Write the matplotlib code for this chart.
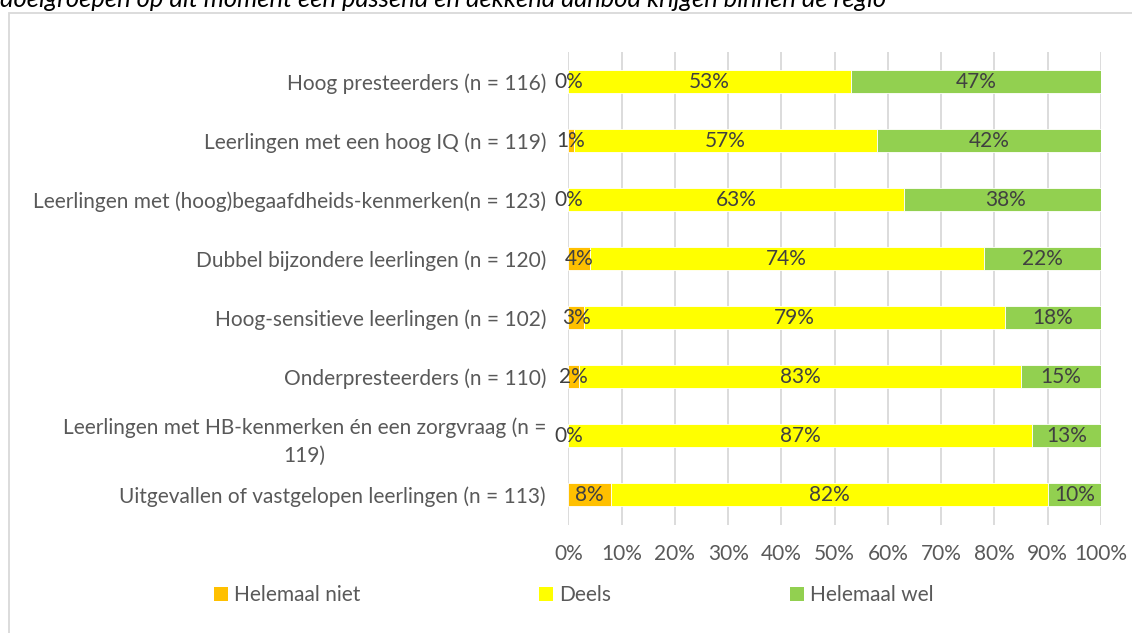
import matplotlib.pyplot as plt
import matplotlib.patches as patches
import numpy as np

categories = [
    "Hoog presteerders (n = 116)",
    "Leerlingen met een hoog IQ (n = 119)",
    "Leerlingen met (hoog)begaafdheids-kenmerken(n = 123)",
    "Dubbel bijzondere leerlingen (n = 120)",
    "Hoog-sensitieve leerlingen (n = 102)",
    "Onderpresteerders (n = 110)",
    "Leerlingen met HB-kenmerken én een zorgvraag (n =\n119)",
    "Uitgevallen of vastgelopen leerlingen (n = 113)",
]
helemaal_niet = [0, 1, 0, 4, 3, 2, 0, 8]
deels = [53, 57, 63, 74, 79, 83, 87, 82]
helemaal_wel = [47, 42, 38, 22, 18, 15, 13, 10]

series_names = ["Helemaal niet", "Deels", "Helemaal wel"]
colors = ["#FFC000", "#FFFF00", "#92D050"]
title_text = "doelgroepen op dit moment een passend en dekkend aanbod krijgen binnen de regio"

plt.rcParams["font.family"] = ["Lato", "DejaVu Sans"]
plt.rcParams.update({"font.size": 15})

W, H = 1132, 633
fig = plt.figure(figsize=(W / 100, H / 100), dpi=100, facecolor="w")
ax = fig.add_axes([568.3 / W, 1 - 525 / H, (1101 - 568.3) / W, (525 - 51.7) / H])

# outer frame (top/left visible, rest runs off the picture)
fig.patches.append(patches.Rectangle((9 / W, -0.05), 1.2, 1 - 13 / H + 0.05,
                                     transform=fig.transFigure, fill=False,
                                     edgecolor="#D9D9D9", linewidth=1.3))
fig.text(0, 1 - 6.7 / H, title_text, ha="left", va="baseline", style="italic",
         fontsize=18.4, color="#000000")

y = np.arange(len(categories))
left = np.zeros(len(categories))
for name, vals, col in zip(series_names, [helemaal_niet, deels, helemaal_wel], colors):
    vals = np.array(vals, dtype=float)
    ax.barh(y, vals, left=left, height=0.39, color=col, label=name,
            edgecolor="white", linewidth=0.6, zorder=2)
    for yi, l, v in zip(y, left, vals):
        ax.text(l + v / 2, yi, f"{v:.0f}%", ha="center", va="center",
                color="#404040", zorder=3)
    left += vals

ax.set_xlim(0, 100)
ax.set_ylim(len(categories) - 0.49, -0.51)
ax.set_xticks(np.arange(0, 101, 10))
ax.set_xticklabels([f"{t}%" for t in range(0, 101, 10)])
ax.set_yticks(y)
ax.set_yticklabels(categories)
for lab in ax.get_yticklabels():
    lab.set_multialignment("center")
    lab.set_linespacing(1.45)
ax.tick_params(axis="both", length=0, colors="#595959")
ax.tick_params(axis="y", pad=16)
ax.tick_params(axis="x", pad=14)
ax.grid(axis="x", color="#D9D9D9", linewidth=1.3, zorder=0)
ax.set_axisbelow(True)
for s in ax.spines.values():
    s.set_visible(False)

leg = fig.legend(loc="center left", bbox_to_anchor=(214 / W, 1 - 595 / H), ncol=3,
                 frameon=False, handlelength=0.65, handleheight=0.65,
                 handletextpad=0.3, columnspacing=8.6, borderaxespad=0, borderpad=0)
for t in leg.get_texts():
    t.set_color("#595959")
for h in leg.legend_handles:
    h.set_edgecolor("none")

plt.savefig("out.png", dpi=100)
